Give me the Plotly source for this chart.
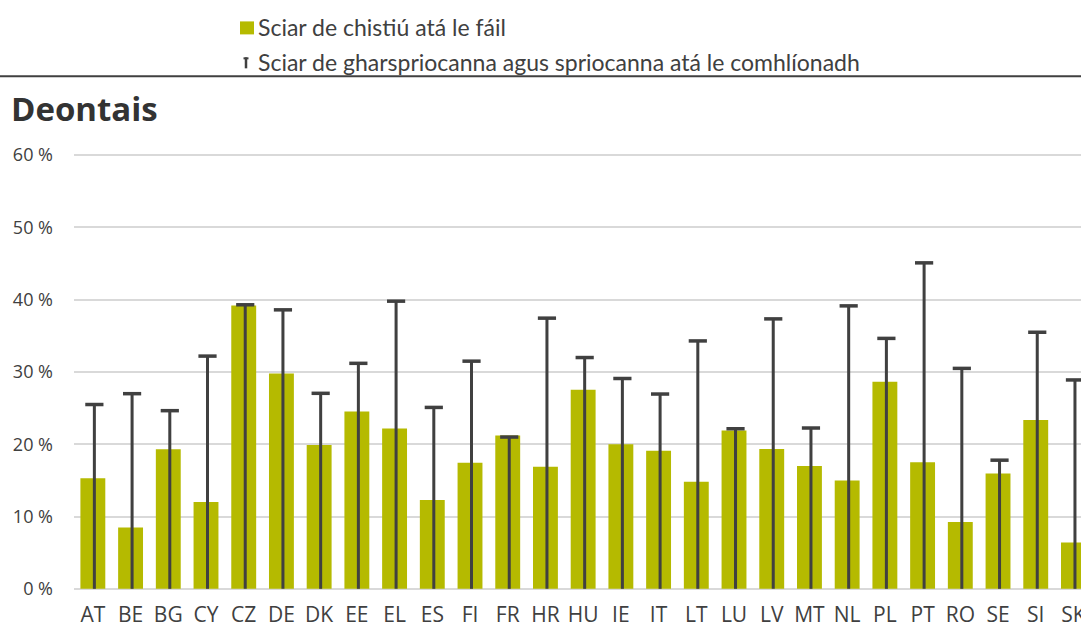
import plotly.graph_objects as go

# Member states and their shares (percent)
countries = ["AT", "BE", "BG", "CY", "CZ", "DE", "DK", "EE", "EL", "ES", "FI", "FR", "HR", "HU",
             "IE", "IT", "LT", "LU", "LV", "MT", "NL", "PL", "PT", "RO", "SE", "SI", "SK"]
funds_available = [15.3, 8.5, 19.3, 12.0, 39.2, 29.8, 19.9, 24.55, 22.2, 12.3, 17.45, 21.2, 16.9, 27.55,
                   20.0, 19.1, 14.8, 21.9, 19.35, 17.0, 15.0, 28.65, 17.5, 9.25, 15.95, 23.35, 6.4]
milestones_pending = [25.5, 27.0, 24.65, 32.2, 39.3, 38.6, 27.05, 31.2, 39.8, 25.1, 31.5, 21.0, 37.45, 32.0,
                      29.1, 26.95, 34.3, 22.15, 37.35, 22.25, 39.15, 34.65, 45.1, 30.5, 17.8, 35.5, 28.9]
y_ticks = [0, 10, 20, 30, 40, 50, 60]

label_funds = "Sciar de chistiú atá le fáil"
label_milestones = "Sciar de gharspriocanna agus spriocanna atá le comhlíonadh"
title_text = "Deontais"

GREEN = "#b5ba00"
DARK = "#404040"
GRID = "#d9d9d9"
FONT = "Open Sans"
LEGEND_FONT = "Lato"

W, H = 1081, 627
ML, MR = 74, 0
PLOT_TOP, PLOT_BOTTOM = 152.8, 591.5
MT, MB = PLOT_TOP, H - PLOT_BOTTOM

idx = list(range(len(countries)))
stem_shift = 0.04  # stems sit slightly right of the bar centres
stem_x = [i + stem_shift for i in idx]


def px_x(px):
    return (px - ML) / (W - ML - MR)


def px_y(py):
    return (PLOT_BOTTOM - py) / (PLOT_BOTTOM - PLOT_TOP)


fig = go.Figure()

fig.add_trace(go.Bar(
    x=idx, y=funds_available, name=label_funds,
    marker=dict(color=GREEN, line=dict(width=0)),
    width=0.66, showlegend=False,
))

# Target shares: thin stem from zero up to the value, capped at the top
fig.add_trace(go.Bar(
    x=stem_x, y=milestones_pending, name=label_milestones,
    marker=dict(color=DARK, line=dict(width=0)),
    width=0.08, showlegend=False,
))
fig.add_trace(go.Scatter(
    x=stem_x, y=milestones_pending, mode="markers", showlegend=False,
    marker=dict(symbol="line-ew", size=13, line=dict(color=DARK, width=3.5)),
    cliponaxis=True,
))

shapes = []
annotations = []

# Legend: green square + text
shapes.append(dict(type="rect", xref="paper", yref="paper",
                   x0=px_x(240), x1=px_x(254), y0=px_y(34), y1=px_y(21),
                   fillcolor=GREEN, line=dict(width=0)))
annotations.append(dict(text=label_funds, xref="paper", yref="paper",
                        x=px_x(256), y=px_y(26.5), xanchor="left", yanchor="middle",
                        showarrow=False, font=dict(family=LEGEND_FONT, size=23, color=DARK)))
# Legend: capped line glyph + text
shapes.append(dict(type="line", xref="paper", yref="paper",
                   x0=px_x(246), x1=px_x(246), y0=px_y(68), y1=px_y(57),
                   line=dict(color=DARK, width=2.5)))
shapes.append(dict(type="line", xref="paper", yref="paper",
                   x0=px_x(243.5), x1=px_x(248.5), y0=px_y(58), y1=px_y(58),
                   line=dict(color=DARK, width=2)))
annotations.append(dict(text=label_milestones, xref="paper", yref="paper",
                        x=px_x(256), y=px_y(61.5), xanchor="left", yanchor="middle",
                        showarrow=False, font=dict(family=LEGEND_FONT, size=23, color=DARK)))
# Separator rule under the legend
shapes.append(dict(type="line", xref="paper", yref="paper",
                   x0=px_x(0), x1=px_x(W), y0=px_y(76), y1=px_y(76),
                   line=dict(color=DARK, width=2)))
# Panel title
annotations.append(dict(text="<b>" + title_text + "</b>", xref="paper", yref="paper",
                        x=px_x(9), y=px_y(108), xanchor="left", yanchor="middle",
                        showarrow=False, font=dict(family=FONT, size=33, color="#333333")))

fig.update_layout(
    width=W, height=H,
    margin=dict(l=ML, r=MR, t=MT, b=MB, pad=0),
    paper_bgcolor="white", plot_bgcolor="white",
    barmode="overlay",
    font=dict(family=FONT, color=DARK, size=18),
    shapes=shapes, annotations=annotations,
    xaxis=dict(range=[-0.5, 26.2], tickvals=idx, ticktext=countries,
               showgrid=False, showline=False, zeroline=False, ticks="",
               tickfont=dict(size=21, color=DARK), ticklabelstandoff=9,
               ticklabeloverflow="allow", automargin=False),
    yaxis=dict(range=[-0.3, 60.3], tickvals=y_ticks, ticktext=[f"{v} %" for v in y_ticks],
               showgrid=True, gridcolor=GRID, gridwidth=2,
               zeroline=True, zerolinecolor=GRID, zerolinewidth=2,
               showline=False, ticks="", tickfont=dict(size=18, color=DARK),
               ticklabelstandoff=20, automargin=False),
)

fig.write_html("out.html")
